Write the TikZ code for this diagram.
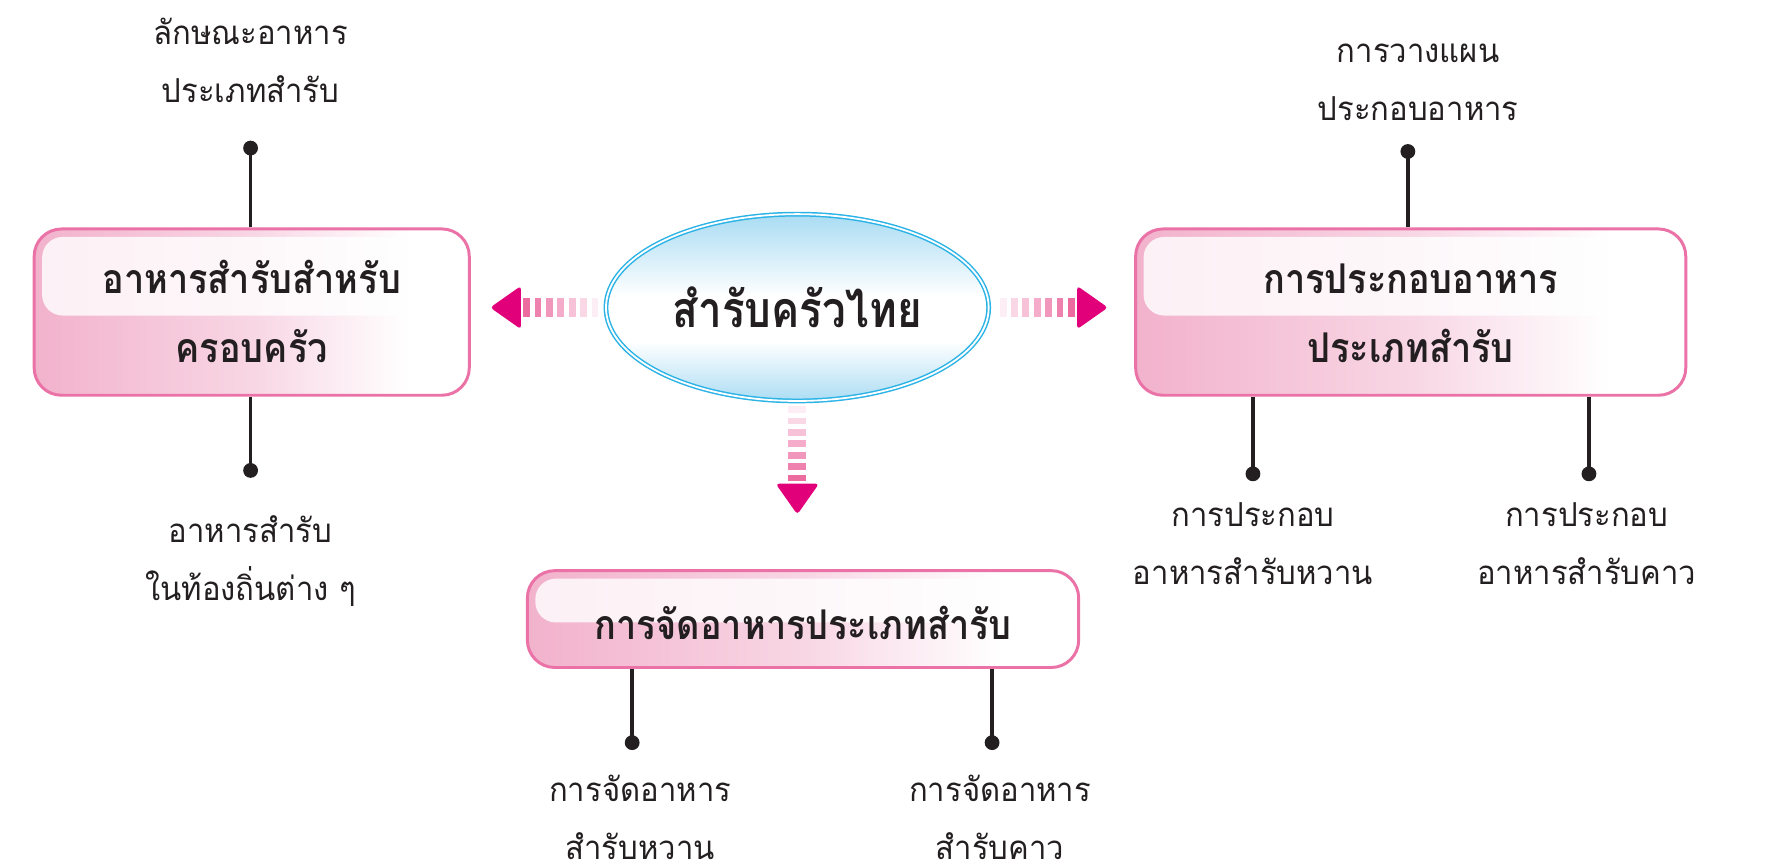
\documentclass[tikz,border=0pt]{standalone}
\usepackage{fontspec}
\setmainfont[Script=Thai]{Loma}
\newfontfamily\lblfont[Script=Thai, FakeStretch=0.94]{Loma}
\newfontfamily\boxfont[Script=Thai, FakeStretch=0.88]{Loma}
\newfontfamily\ellfont[Script=Thai, FakeStretch=0.84]{Loma}
\usetikzlibrary{shapes.geometric,calc}
\definecolor{txt}{HTML}{231F20}
\definecolor{boxborder}{HTML}{EA72A6}
\definecolor{pinkL}{HTML}{F2B2CC}
\definecolor{pinkM}{HTML}{F8D6E4}
\definecolor{headc}{HTML}{E2007A}
\definecolor{stripe}{HTML}{EC6A9F}
\definecolor{cyanL}{HTML}{2BB3E6}
\definecolor{blueT}{HTML}{A9DCF3}
\definecolor{blueB}{HTML}{ACDDF4}
\pgfdeclarehorizontalshading{boxshade}{100bp}{color(0bp)=(pinkL); color(25bp)=(pinkL); color(50bp)=(pinkM); color(68bp)=(white); color(100bp)=(white)}
\pgfdeclareverticalshading{ellshade}{100bp}{color(0bp)=(blueB); color(25bp)=(blueB); color(41bp)=(white); color(53bp)=(white); color(75bp)=(blueT); color(100bp)=(blueT)}
\newcommand\lsA{\rule[-18pt]{0pt}{51pt}}
\newcommand\lsB{\rule[-16pt]{0pt}{60pt}}
\newcommand\lsC{\rule[-12pt]{0pt}{60pt}}
\tikzset{
  pinkbox/.style={rectangle, rounded corners=24pt, draw=boxborder, line width=2.6pt,
    shading=boxshade, align=center, inner sep=0pt, text=txt,
    font=\boxfont\bfseries\fontsize{36}{60}\selectfont,
    path picture={\fill[white, opacity=.82, rounded corners=18pt]
      ([xshift=7pt,yshift=-7pt]path picture bounding box.north west) rectangle
      ([xshift=-7pt,yshift=-3pt]path picture bounding box.east);}},
  centreell/.style={ellipse, minimum width=336pt, minimum height=164pt, draw=cyanL,
    double=white, double distance=1.6pt, line width=1.3pt, shading=ellshade,
    inner sep=0pt, text=txt, font=\ellfont\bfseries\fontsize{44}{50}\selectfont},
  dot/.style={circle, fill=txt, inner sep=0pt, minimum size=13pt},
  stem/.style={draw=txt, line width=3pt},
  leaf/.style={align=center, inner sep=0pt, text=txt, font=\lblfont\fontsize{29}{51}\selectfont},
  sarrow/.pic={
    \foreach \i in {0,...,6}{
      \pgfmathsetmacro\pc{12+\i*14.5}
      \fill[stripe!\pc!white] (\i*10,-8) rectangle (\i*10+6,8);
    }
    \fill[headc, rounded corners=3pt] (68,-19) -- (95,0) -- (68,19) -- cycle;
  }
}
\begin{document}
\begin{tikzpicture}[x=1pt,y=-1pt]
\fill[white] (0,0) rectangle (1568,758);
\useasboundingbox (0,0) rectangle (1568,758);

% central ellipse
\node[centreell] (c) at (700,270) {สำรับครัวไทย};

% boxes
\node[pinkbox, minimum width=382pt, minimum height=146pt] (b1) at (221,274)
  {\lsB อาหารสำรับสำหรับ\\\lsB ครอบครัว};
\node[pinkbox, minimum width=483pt, minimum height=146pt] (b2) at (1238.5,274)
  {\lsB การประกอบอาหาร\\\lsB ประเภทสำรับ};
\node[pinkbox, minimum width=484pt, minimum height=85pt] (b3) at (705,543.5)
  {\lsC การจัดอาหารประเภทสำรับ};

% striped arrows
\pic[rotate=180] at ($(c.west)+(-6,0)$) {sarrow};
\pic at ($(c.east)+(9,0)$) {sarrow};
\pic[rotate=-90] at ($(c.south)+(0,4)$) {sarrow};

% dots
\node[dot] (d1) at (220,130) {};
\node[dot] (d2) at (220,413) {};
\node[dot] (d3) at (1236,133) {};
\node[dot] (d4) at (1100,416) {};
\node[dot] (d5) at (1395,416) {};
\node[dot] (d6) at (555,652) {};
\node[dot] (d7) at (871,652) {};

% stems
\draw[stem] (b1.north -| d1) -- (d1.center);
\draw[stem] (b1.south -| d2) -- (d2.center);
\draw[stem] (b2.north -| d3) -- (d3.center);
\draw[stem] (b2.south -| d4) -- (d4.center);
\draw[stem] (b2.south -| d5) -- (d5.center);
\draw[stem] (b3.south -| d6) -- (d6.center);
\draw[stem] (b3.south -| d7) -- (d7.center);

% labels
\node[leaf] (t1) at (220,57) {\lsA ลักษณะอาหาร\\\lsA ประเภทสำรับ};
\node[leaf] (t2) at (220,494) {\lsA อาหารสำรับ\\\lsA ในท้องถิ่นต่าง ๆ};
\node[leaf] (t3) at (1245,73) {\lsA การวางแผน\\\lsA ประกอบอาหาร};
\node[leaf] (t4) at (1100,480) {\lsA การประกอบ\\\lsA อาหารสำรับหวาน};
\node[leaf] (t5) at (1393,480) {\lsA การประกอบ\\\lsA อาหารสำรับคาว};
\node[leaf] (t6) at (562,722) {\lsA การจัดอาหาร\\\lsA สำรับหวาน};
\node[leaf] (t7) at (878,722) {\lsA การจัดอาหาร\\\lsA สำรับคาว};
\end{tikzpicture}
\end{document}
